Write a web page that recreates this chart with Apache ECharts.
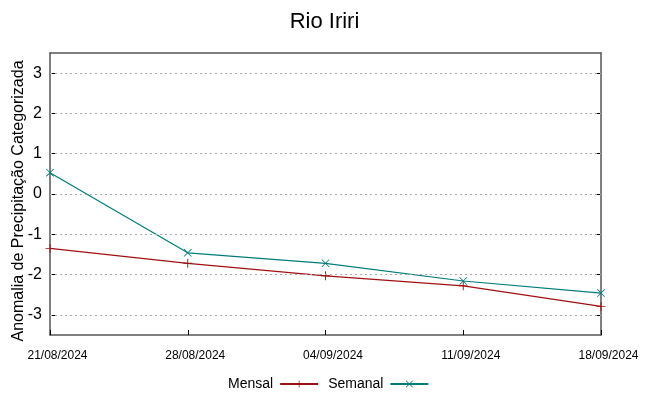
<!DOCTYPE html>
<html><head><meta charset="utf-8">
<script src="https://cdn.jsdelivr.net/npm/echarts@6/dist/echarts.min.js"></script>
<style>html,body{margin:0;padding:0;background:#fff}#c{width:649px;height:396px}</style>
</head><body><div id="c"></div>
<script>
const categories = ['21/08/2024','28/08/2024','04/09/2024','11/09/2024','18/09/2024'];
const mensal = [-1.35, -1.72, -2.03, -2.28, -2.79];
const semanal = [0.53, -1.46, -1.72, -2.16, -2.46];
const yTicks = [-3,-2,-1,0,1,2,3];
const yTitle = 'Anomalia de Precipitação Categorizada';

const plusPath = 'path://M0,4.5h10v1h-10z M4.5,0h1v10h-1z';
const xPath = 'path://M0.7,0L10,9.3L9.3,10L0,0.7z M9.3,0L10,0.7L0.7,10L0,9.3z';
const FONT = '"Liberation Sans", Arial, sans-serif';

const chart = echarts.init(document.getElementById('c'));
chart.setOption({
  animation: false,
  backgroundColor: '#fff',
  title: { text: 'Rio Iriri', left: 'center', top: 6,
    textStyle: { fontFamily: FONT, fontSize: 22, fontWeight: 'normal', color: '#000' } },
  grid: { left: 50, right: 48, top: 53, bottom: 61, outerBoundsMode: 'none', containLabel: false },
  graphic: [{
    type: 'text', x: 19, y: 201, rotation: Math.PI / 2,
    style: { text: yTitle, font: '16px "Liberation Sans", Arial, sans-serif', fill: '#000',
      textAlign: 'center', textVerticalAlign: 'middle' }
  }],
  legend: {
    top: 372, left: 223, align: 'right', itemWidth: 38, itemHeight: 9, itemGap: 9,
    textStyle: { fontFamily: FONT, fontSize: 14, color: '#000', padding: [0, 2, 0, 0] },
    data: [{name:'Mensal'},{name:'Semanal'}]
  },
  xAxis: [{
    type: 'category', data: categories, boundaryGap: false,
    axisLine: { onZero: false, lineStyle: { color: '#555', width: 1.5 } },
    axisTick: { inside: true, length: 5, lineStyle: { color: '#000' } },
    axisLabel: { fontFamily: FONT, fontSize: 12, color: '#000', margin: 15, padding: [0, 0, 0, 15] },
    splitLine: { show: false }
  },{
    type: 'category', data: categories, boundaryGap: false, position: 'top',
    axisLine: { onZero: false, lineStyle: { color: '#555', width: 1.5 } },
    axisTick: { show: false }, axisLabel: { show: false }
  }],
  yAxis: [{
    type: 'value', min: -3.5, max: 3.5, interval: 0.5,
    axisLine: { show: true, onZero: false, lineStyle: { color: '#555', width: 1.5 } },
    axisTick: { show: true, inside: true, length: 5, lineStyle: { color: '#000' },
      customValues: yTicks },
    axisLabel: { fontFamily: FONT, fontSize: 16, color: '#000', margin: 8, customValues: yTicks,
      formatter: v => yTicks.includes(v) ? String(v) : '' },
    splitLine: { show: false }
  },{
    type: 'value', min: -3.5, max: 3.5, interval: 0.5, position: 'right',
    axisLine: { show: true, onZero: false, lineStyle: { color: '#555', width: 1.5 } },
    axisTick: { show: true, inside: true, length: 5, lineStyle: { color: '#000' }, customValues: yTicks },
    axisLabel: { show: false },
    splitLine: { show: false }
  }],
  series: [
    { name: 'grid', type: 'line', data: [], silent: true,
      markLine: { silent: true, symbol: 'none', label: { show: false },
        lineStyle: { type: [2,3], color: '#aaa', width: 1 },
        data: yTicks.map(v => ({ yAxis: v })) } },
    { name: 'Mensal', type: 'line', data: mensal, symbol: plusPath, symbolSize: 9,
      color: '#a01010', lineStyle: { color: '#a01010', width: 1.2 },
      itemStyle: { color: '#a01010' } },
    { name: 'Semanal', type: 'line', data: semanal, symbol: xPath, symbolSize: 8,
      color: '#007b7b', lineStyle: { color: '#007b7b', width: 1.2 },
      itemStyle: { color: '#007b7b' } }
  ]
});
</script></body></html>
